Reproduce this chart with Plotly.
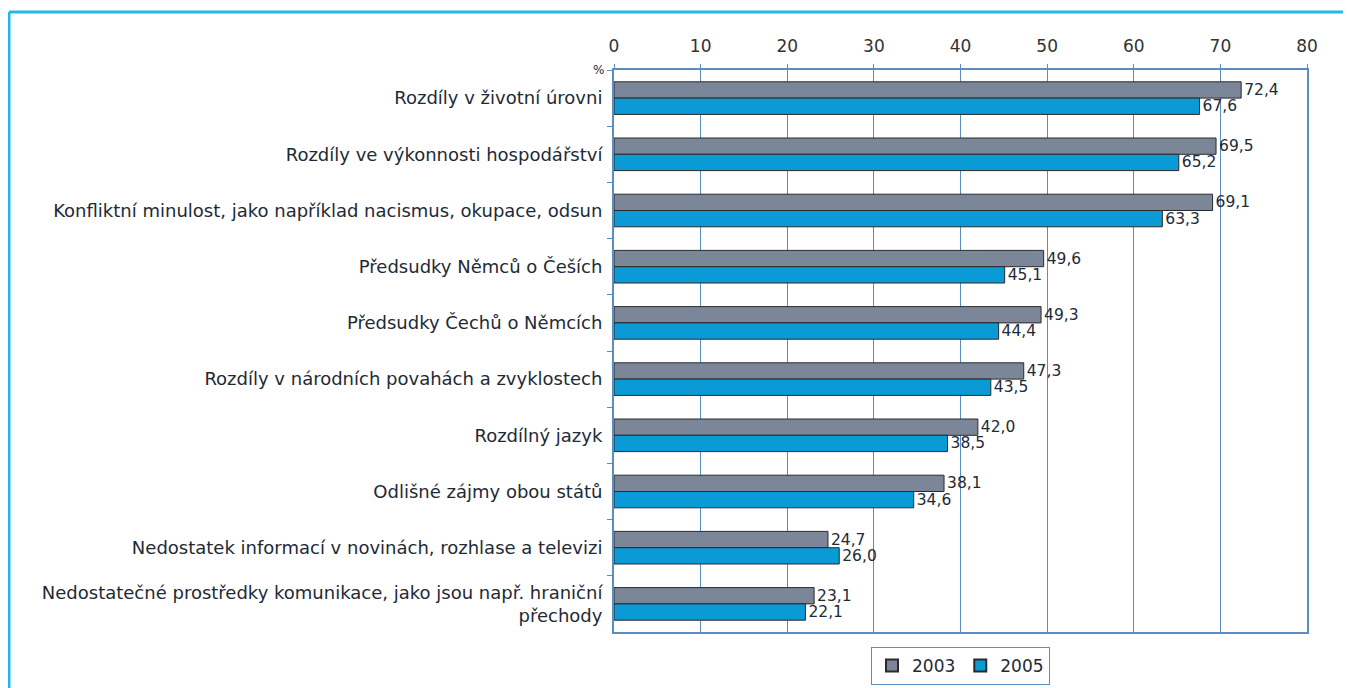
import plotly.graph_objects as go

categories = [
    "Rozdíly v životní úrovni",
    "Rozdíly ve výkonnosti hospodářství",
    "Konfliktní minulost, jako například nacismus, okupace, odsun",
    "Předsudky Němců o Češích",
    "Předsudky Čechů o Němcích",
    "Rozdíly v národních povahách a zvyklostech",
    "Rozdílný jazyk",
    "Odlišné zájmy obou států",
    "Nedostatek informací v novinách, rozhlase a televizi",
    "Nedostatečné prostředky komunikace, jako jsou např. hraniční<br>přechody",
]
values_2003 = [72.4, 69.5, 69.1, 49.6, 49.3, 47.3, 42.0, 38.1, 24.7, 23.1]
values_2005 = [67.6, 65.2, 63.3, 45.1, 44.4, 43.5, 38.5, 34.6, 26.0, 22.1]
series_names = ["2003", "2005"]
x_ticks = [0, 10, 20, 30, 40, 50, 60, 70, 80]


def fmt(v):
    return f"{v:.1f}".replace(".", ",")


FONT = "DejaVu Sans, Verdana, sans-serif"
TXT = "#1e2a36"
AX = "#5a8ec0"

fig = go.Figure()
for name, vals, color in [
    (series_names[0], values_2003, "#7b8799"),
    (series_names[1], values_2005, "#0a9ad6"),
]:
    fig.add_trace(go.Bar(
        name=name,
        y=categories,
        x=vals,
        orientation="h",
        marker=dict(color=color, line=dict(color="#2a2a2a", width=1)),
        text=[fmt(v) for v in vals],
        textposition="outside",
        constraintext="none",
        textfont=dict(family=FONT, size=15.5, color=TXT),
        cliponaxis=False,
    ))

OFF = 8  # page body margin
W, H = 1351, 688
L, R, T, B = 606, 52, 62, 64
pw, ph = W - L - R, H - T - B


def px_x(p):  # page pixel -> paper
    return (p - OFF - L) / pw


def px_y(p):
    return (H - B - (p - OFF)) / ph


fig.update_layout(
    width=W, height=H,
    margin=dict(l=L, r=R, t=T, b=B, pad=0, autoexpand=False),
    paper_bgcolor="white",
    plot_bgcolor="white",
    barmode="group",
    bargap=0.42,
    bargroupgap=0,
    font=dict(family=FONT, size=15, color=TXT),
    showlegend=True,
    legend=dict(
        orientation="h",
        x=0.5, xanchor="center",
        y=px_y(647), yanchor="top",
        bordercolor=AX, borderwidth=1,
        font=dict(family=FONT, size=17, color=TXT),
        itemwidth=30,
        tracegroupgap=0,
        itemsizing="constant",
    ),
    xaxis=dict(
        side="top",
        range=[0, 80],
        tickvals=x_ticks,
        ticks="outside", ticklen=4, tickcolor=AX,
        showgrid=True, gridcolor=AX, gridwidth=1,
        showline=True, linecolor=AX, linewidth=2, mirror=True,
        zeroline=False,
        tickfont=dict(family=FONT, size=17, color="#333333"),
        ticklabelstandoff=5,
    ),
    yaxis=dict(
        autorange="reversed",
        ticks="outside", ticklen=5, tickcolor=AX,
        tickson="boundaries",
        showline=True, linecolor=AX, linewidth=2, mirror=True,
        showgrid=False,
        tickfont=dict(family=FONT, size=18, color=TXT),
        ticklabelstandoff=6,
    ),
    annotations=[dict(
        text="%", xref="paper", yref="paper",
        x=0, y=1, xanchor="right", yanchor="middle",
        xshift=-8, showarrow=False,
        font=dict(family=FONT, size=12, color=TXT),
    )],
    shapes=[
        dict(type="line", xref="paper", yref="paper",
             x0=px_x(9), x1=px_x(9), y0=px_y(12), y1=px_y(700),
             line=dict(color="#22b8ee", width=3)),
        dict(type="line", xref="paper", yref="paper",
             x0=px_x(9), x1=px_x(1360), y0=px_y(12), y1=px_y(12),
             line=dict(color="#22b8ee", width=3)),
    ],
)

fig.write_html("out.html")
